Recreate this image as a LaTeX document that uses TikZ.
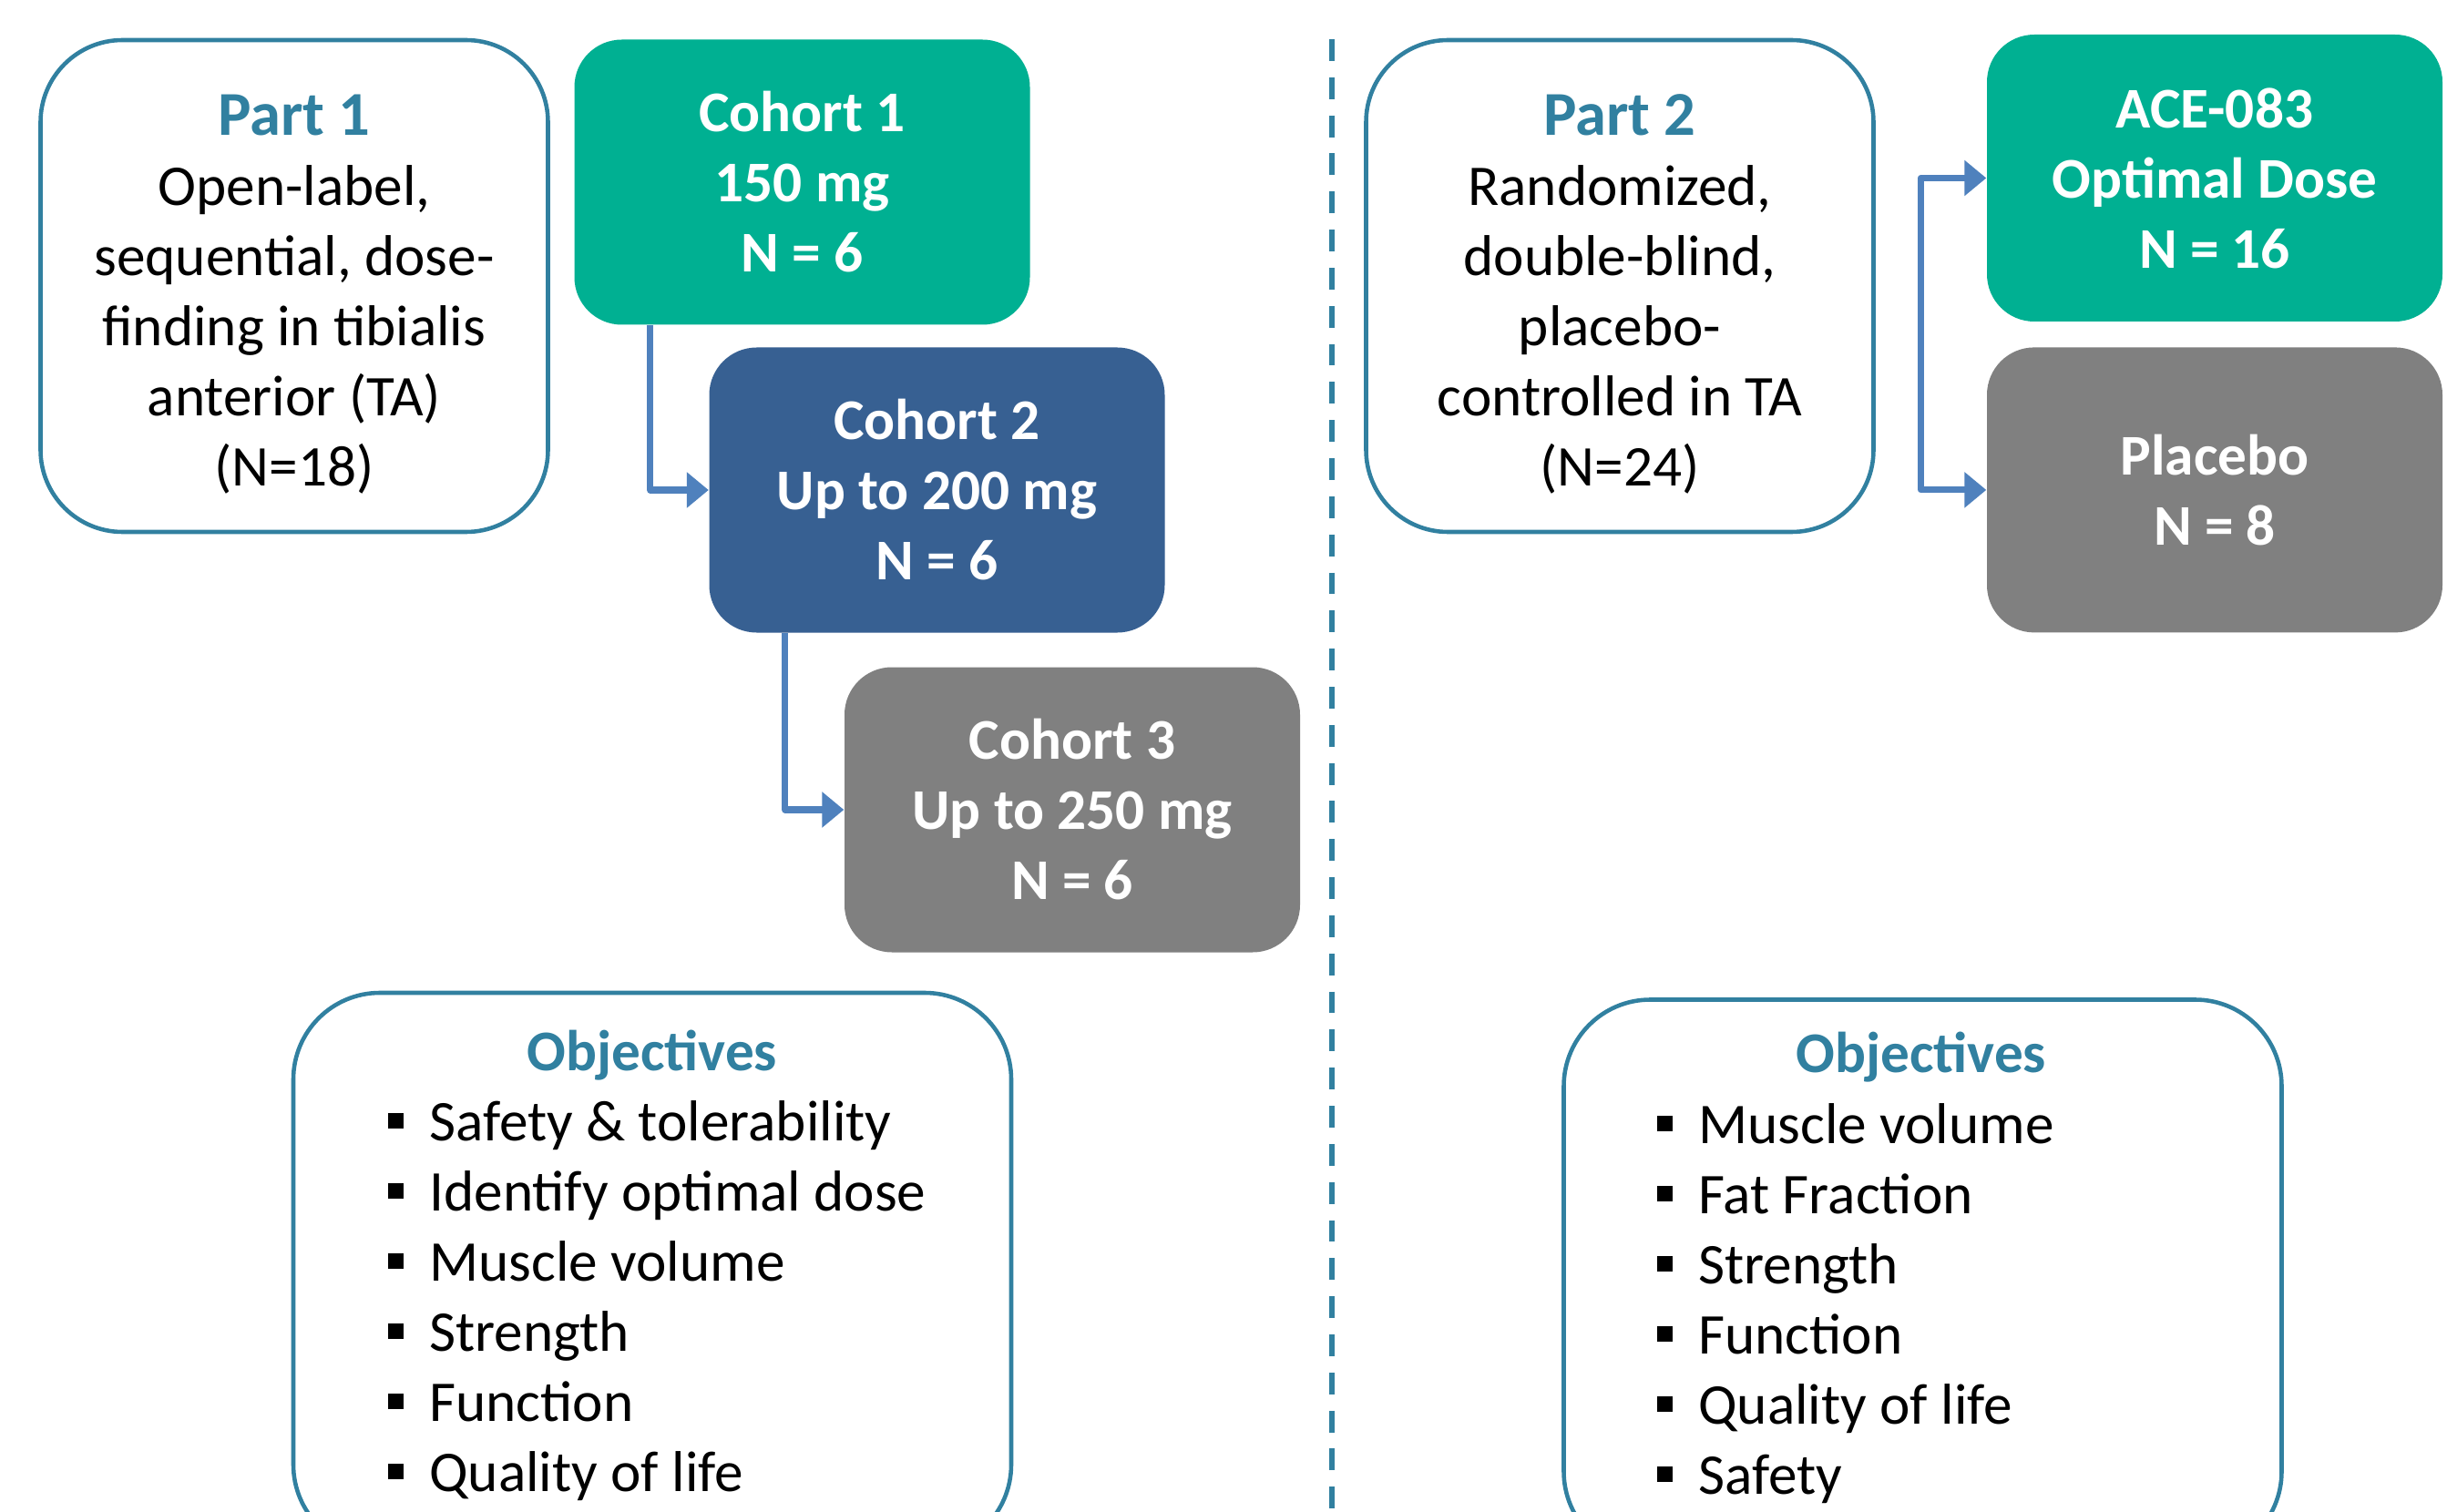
\documentclass[tikz,border=0pt]{standalone}
\usepackage{fontspec}
\setmainfont{Carlito}
\usepackage{xcolor}
\usepackage{tikz}
\usetikzlibrary{positioning,arrows.meta,calc}
\definecolor{partblue}{RGB}{49,128,160}
\definecolor{cohteal}{RGB}{0,176,146}
\definecolor{cohblue}{RGB}{55,96,146}
\definecolor{cohgray}{RGB}{128,128,128}
\definecolor{arrowblue}{RGB}{79,129,189}
\newcommand{\sqbul}{\rule[3.7pt]{4.8pt}{4.8pt}\hspace{8.2pt}}
\tikzset{
partbox/.style={
draw=partblue,
line width=1.3pt,
rounded corners=0.9cm,
minimum width=5.57cm,
minimum height=5.4cm,
align=center,
fill=white,
font=\fontsize{18}{21.9}\selectfont
},
cohort/.style={
rounded corners=0.52cm,
minimum width=5cm,
minimum height=3.13cm,
align=center,
text=white,
font=\fontsize{18}{21.9}\selectfont\bfseries
},
objbox/.style={
draw=partblue,
line width=1.3pt,
rounded corners=0.95cm,
minimum width=7.88cm,
minimum height=6.13cm
},
objtitle/.style={
text=partblue,
inner sep=0pt,
font=\fontsize{18}{21.9}\selectfont\bfseries
},
objitem/.style={
inner sep=0pt,
anchor=base west,
font=\fontsize{18}{21.9}\selectfont
},
arrow/.style={
-{Triangle[length=0.24cm,width=0.38cm]},
line width=2pt,
line join=round,
arrowblue
},
twoway/.style={
arrow,
{Triangle[length=0.24cm,width=0.38cm]}-{Triangle[length=0.24cm,width=0.38cm]}
},
divider/.style={
partblue,
line width=1.7pt,
dash pattern=on 6.8pt off 5.1pt
}
}

\begin{document}
\begin{tikzpicture}
\clip (0,0) rectangle (26.86,-16.6);

% part 1
\node[partbox](p1) at (3.23,-3.14){\rule{0pt}{0.62cm}\textcolor{partblue}{\fontsize{19.5}{21.9}\selectfont\textbf{Part 1}}\\Open-label,\\sequential, dose-\\finding in tibialis\\anterior (TA)\\(N=18)};
\node[cohort,fill=cohteal](c1) at (8.805,-2.0){Cohort 1\\150 mg\\N = 6};
\node[cohort,fill=cohblue](c2) at (10.285,-5.38){Cohort 2\\Up to 200 mg\\N = 6};
\node[cohort,fill=cohgray](c3) at (11.77,-8.89){Cohort 3\\Up to 250 mg\\N = 6};

\draw[arrow]([xshift=0.84cm]c1.south west) |- (c2.west);
\draw[arrow]([xshift=0.84cm]c2.south west) |- (c3.west);

\node[objbox](oa) at (7.16,-13.965){};
\node[objtitle,anchor=base](oat) at (7.16,-11.75){Objectives};
\foreach \txt [count=\i] in {Safety \& tolerability,Identify optimal dose,Muscle volume,Strength,Function,Quality of life}
\node[objitem](oa\i) at (4.25,{-12.52-(\i-1)*0.77}){\sqbul\txt};

% divider
\coordinate (dtop) at (14.62,-0.43);
\coordinate (dbot) at (14.62,-16.6);
\draw[divider](dtop)--(dbot);

% part 2
\node[partbox](p2) at (17.78,-3.14){\rule{0pt}{0.62cm}\textcolor{partblue}{\fontsize{19.5}{21.9}\selectfont\textbf{Part 2}}\\Randomized,\\double-blind,\\placebo-\\controlled in TA\\(N=24)};
\node[cohort,fill=cohteal,minimum height=3.15cm](ace) at (24.31,-1.955){ACE-083\\Optimal Dose\\N = 16};
\node[cohort,fill=cohgray,below=0.27cm of ace](plac){Placebo\\N = 8};

\draw[twoway](ace.west) -- ++(-0.72,0) |- (plac.west);

\node[objbox](ob) at (21.105,-14.04){};
\node[objtitle,anchor=base](obt) at (21.09,-11.77){Objectives};
\foreach \txt [count=\i] in {Muscle volume,Fat Fraction,Strength,Function,Quality of life,Safety}
\node[objitem](ob\i) at (18.18,{-12.55-(\i-1)*0.77}){\sqbul\txt};
\end{tikzpicture}
\end{document}
